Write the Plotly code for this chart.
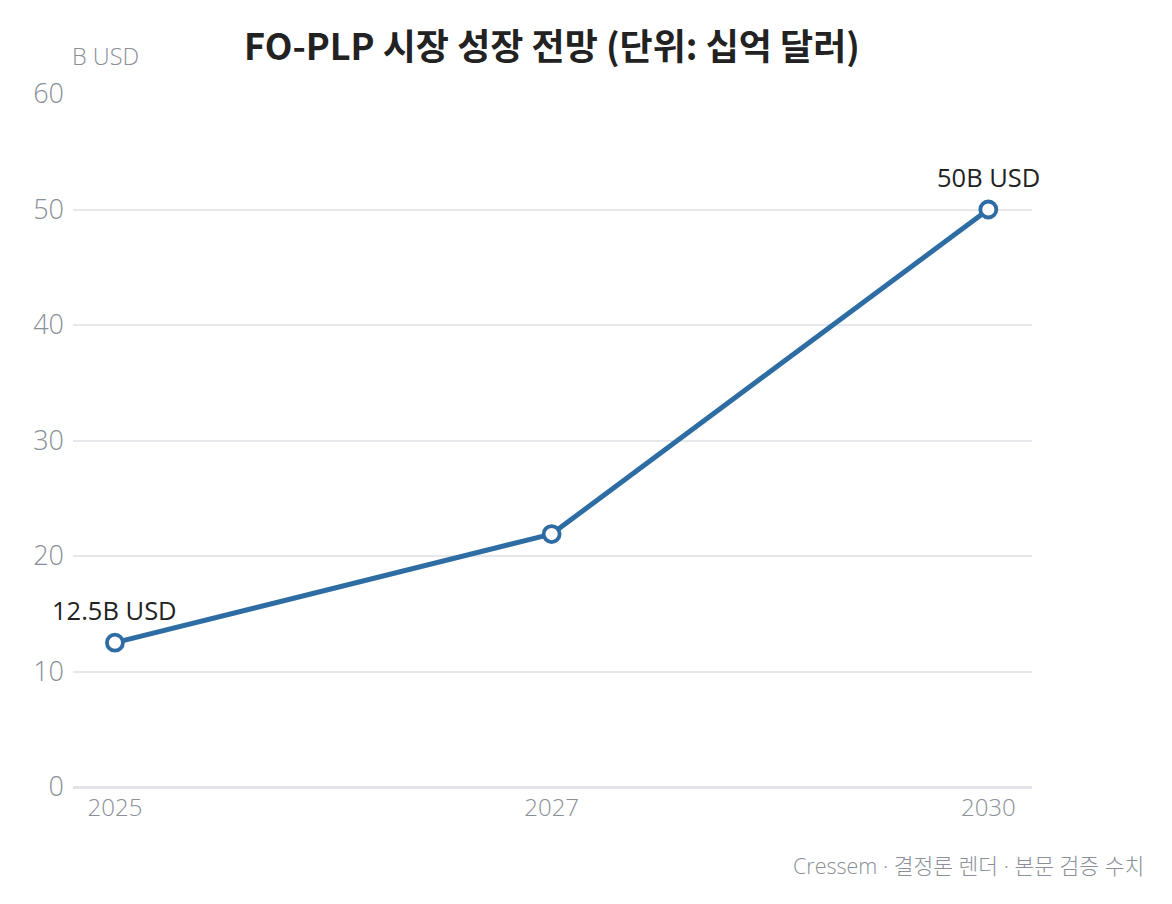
import plotly.graph_objects as go

years = ["2025", "2027", "2030"]
market_size = [12.5, 21.9, 50.0]
point_labels = ["12.5B USD", "", "50B USD"]
y_ticks = [0, 10, 20, 30, 40, 50, 60]

CJK = "Noto Sans CJK KR"
LATIN = "Open Sans, Noto Sans CJK KR"
BLUE = "#2e6da4"
GREY = "#8a8f98"

fig = go.Figure()
fig.add_trace(go.Scatter(
    x=years, y=market_size, mode="lines+markers",
    line=dict(color=BLUE, width=5),
    marker=dict(size=16, color="white", line=dict(color=BLUE, width=3.8)),
    cliponaxis=False, hoverinfo="skip", showlegend=False,
))

# category axis: annotations positioned by category index
label_annotations = [
    dict(x=i, y=yv, xref="x", yref="y", text=lab, showarrow=False,
         xanchor="center", yanchor="bottom", yshift=14,
         font=dict(family=LATIN, size=25.5, color="#222222"))
    for i, (yv, lab) in enumerate(zip(market_size, point_labels)) if lab
]

fig.update_layout(
    width=1156, height=888,
    margin=dict(l=65, r=132, t=86, b=109),
    paper_bgcolor="white", plot_bgcolor="white",
    font=dict(family=LATIN),
    title=dict(text="<b>FO-PLP 시장 성장 전망 (단위: 십억 달러)</b>",
               x=0.4995, xref="paper", xanchor="center", y=0.956, yanchor="middle",
               font=dict(family=CJK, size=36, color="#222222")),
    xaxis=dict(type="category", range=[-0.096, 2.1], showgrid=False,
               showline=False, zeroline=False, ticks="", ticklabelstandoff=4,
               tickfont=dict(family=LATIN, size=24, color=GREY, weight=300)),
    yaxis=dict(range=[0, 60], tickvals=y_ticks, showgrid=True,
               gridcolor="#e6e8ec", gridwidth=1.5, zeroline=True,
               zerolinecolor="#e2e4e8", zerolinewidth=2.5,
               ticks="", ticklabelstandoff=8,
               tickfont=dict(family=LATIN, size=27, color=GREY, weight=300)),
    annotations=label_annotations + [
        dict(text="B USD", xref="paper", yref="paper", x=0, y=1.0,
             xanchor="left", yanchor="middle", xshift=-3, yshift=38, showarrow=False,
             font=dict(family=LATIN, size=23.5, color=GREY, weight=300)),
        dict(text="Cressem · 결정론 렌더 · 본문 검증 수치", xref="paper", yref="paper",
             x=1.119, y=-0.1126, xanchor="right", yanchor="middle", showarrow=False,
             font=dict(family=LATIN, size=21.5, color=GREY, weight=300)),
    ],
)

fig.write_html("out.html")
